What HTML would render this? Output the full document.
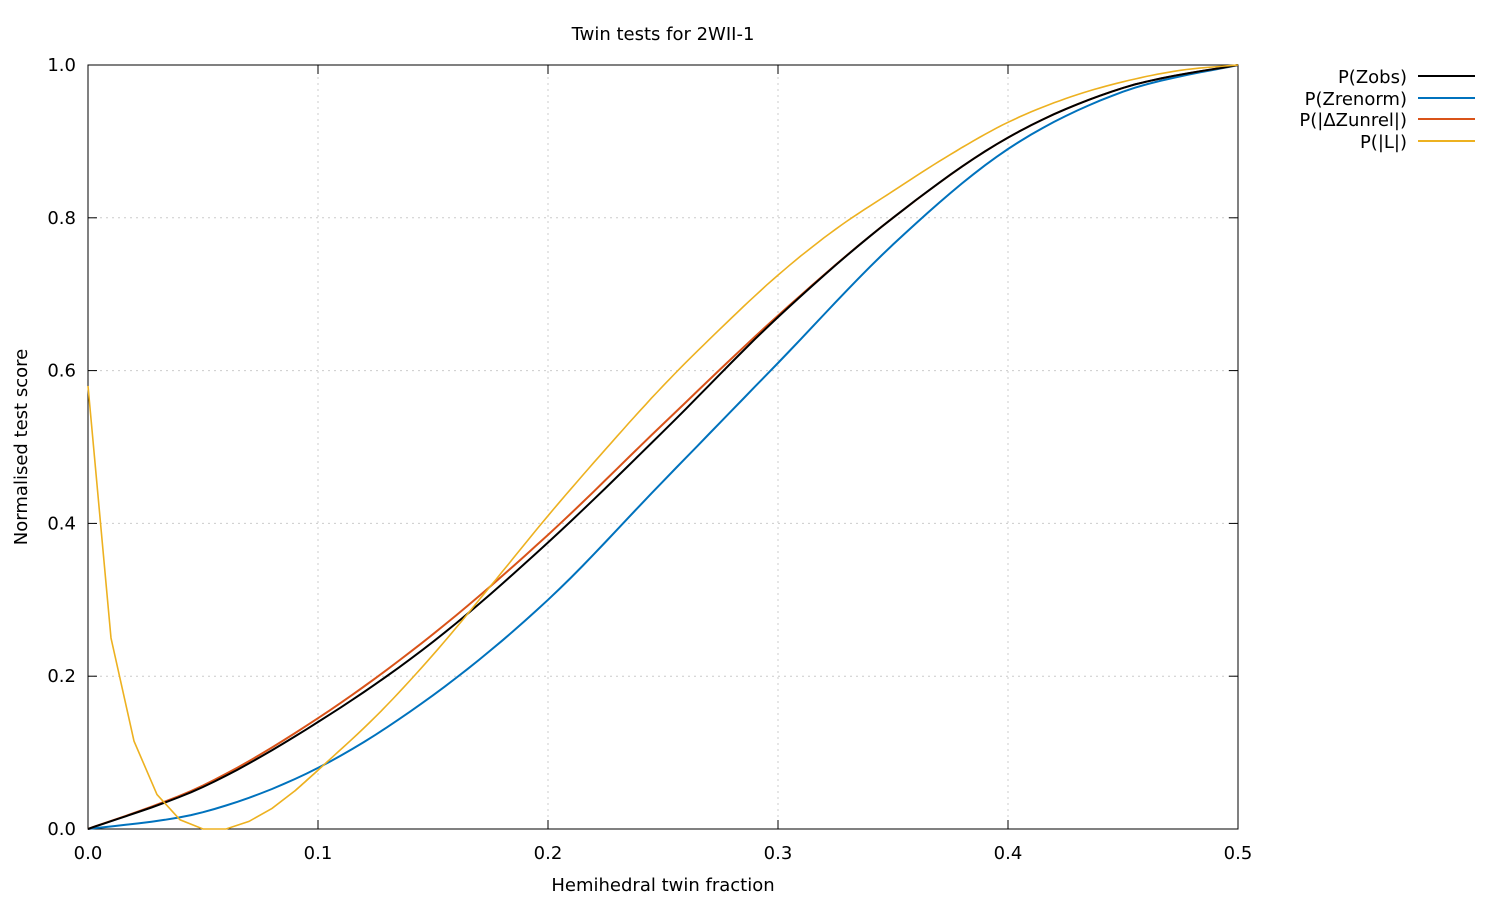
<!DOCTYPE html>
<html><head><meta charset="utf-8"><style>
body{margin:0;background:#fff;}
svg text{font-family:"DejaVu Sans","Liberation Sans",sans-serif;font-size:18px;fill:#000;}
</style></head><body>
<svg id="s" width="1500" height="900" xmlns="http://www.w3.org/2000/svg">
<rect width="1500" height="900" fill="#fff"/>
<g id="grid" stroke="#ccc" stroke-width="1" stroke-dasharray="2,4"></g>
<rect x="88" y="65" width="1150" height="764" fill="none" stroke="#000" stroke-width="1"/>
<g id="ticks" stroke="#000"></g>
<g id="labels"></g>
<text x="663" y="40" text-anchor="middle">Twin tests for 2WII-1</text>
<text x="663" y="891" text-anchor="middle">Hemihedral twin fraction</text>
<text transform="translate(27,447) rotate(-90)" text-anchor="middle">Normalised test score</text>
<g id="curves" fill="none" stroke-width="2"></g>
<text x="1407" y="83" text-anchor="end">P(Zobs)</text>
<text x="1407" y="105" text-anchor="end">P(Zrenorm)</text>
<text x="1407" y="126" text-anchor="end">P(|ΔZunrel|)</text>
<text x="1407" y="148" text-anchor="end">P(|L|)</text>
<line x1="1418" y1="76" x2="1475" y2="76" stroke="#000" stroke-width="2"/>
<line x1="1418" y1="98" x2="1475" y2="98" stroke="#0072bd" stroke-width="2"/>
<line x1="1418" y1="119" x2="1475" y2="119" stroke="#d95319" stroke-width="2"/>
<line x1="1418" y1="141" x2="1475" y2="141" stroke="#edb120" stroke-width="2"/>
</svg>
<script>
const NS="http://www.w3.org/2000/svg";
const X=x=>88+x*2300, Y=y=>829-y*764;
function el(p,t,a,txt){const e=document.createElementNS(NS,t);for(const k in a)e.setAttribute(k,a[k]);if(txt!=null)e.textContent=txt;document.getElementById(p).appendChild(e);}
for(let i=0;i<=5;i++){const x=X(i*0.1);
 if(i>0&&i<5)el('grid','line',{x1:x,y1:65,x2:x,y2:829});
 el('ticks','line',{x1:x,y1:829,x2:x,y2:820});el('ticks','line',{x1:x,y1:65,x2:x,y2:74});
 el('labels','text',{x:x,y:859,'text-anchor':'middle'},(i*0.1).toFixed(1));}
for(let i=0;i<=5;i++){const y=Y(i*0.2);
 if(i>0&&i<5)el('grid','line',{x1:88,y1:y,x2:1238,y2:y});
 el('ticks','line',{x1:88,y1:y,x2:97,y2:y});el('ticks','line',{x1:1238,y1:y,x2:1229,y2:y});
 el('labels','text',{x:76,y:y+6,'text-anchor':'end'},(i*0.2).toFixed(1));}
function cr(pts,steps){let out=[];for(let i=0;i<pts.length-1;i++){const p0=pts[Math.max(i-1,0)],p1=pts[i],p2=pts[i+1],p3=pts[Math.min(i+2,pts.length-1)];
 for(let s=0;s<steps;s++){const t=s/steps,t2=t*t,t3=t2*t;
 const f=(a,b,c,d)=>0.5*(2*b+(-a+c)*t+(2*a-5*b+4*c-d)*t2+(-a+3*b-3*c+d)*t3);
 out.push([f(p0[0],p1[0],p2[0],p3[0]),f(p0[1],p1[1],p2[1],p3[1])]);}}
 out.push(pts[pts.length-1]);return out;}
function curve(xs,ys,col,smooth,w){let pts=xs.map((x,i)=>[X(x),Y(ys[i])]);if(smooth)pts=cr(pts,10);
 el('curves','polyline',{points:pts.map(p=>p[0].toFixed(1)+','+p[1].toFixed(1)).join(' '),stroke:col,'stroke-width':w});}
const xs=[0,0.05,0.1,0.15,0.2,0.25,0.3,0.35,0.4,0.45,0.5];
curve(xs,[0,0.022,0.08,0.175,0.30,0.455,0.61,0.765,0.89,0.965,1],'#0072bd',true,2);
curve(xs,[0,0.057,0.145,0.255,0.385,0.53,0.672,0.80,0.905,0.97,1],'#d95319',true,2);
curve(xs,[0,0.055,0.14,0.245,0.375,0.52,0.67,0.80,0.905,0.97,1],'#000',true,2);
const yx=[0,0.01,0.02,0.03,0.04,0.05,0.06,0.07,0.08,0.09,0.1];
const yy=[0.58,0.25,0.115,0.045,0.012,0,0,0.01,0.027,0.05,0.077];
curve(yx,yy,'#edb120',false,1.6);
curve([0.09,0.1,0.125,0.15,0.175,0.2,0.225,0.25,0.275,0.3,0.325,0.35,0.375,0.4,0.425,0.45,0.475,0.5],
      [0.05,0.077,0.147,0.228,0.318,0.41,0.497,0.58,0.655,0.725,0.785,0.835,0.883,0.925,0.956,0.978,0.993,1],'#edb120',true,1.6);
</script>
</body></html>
